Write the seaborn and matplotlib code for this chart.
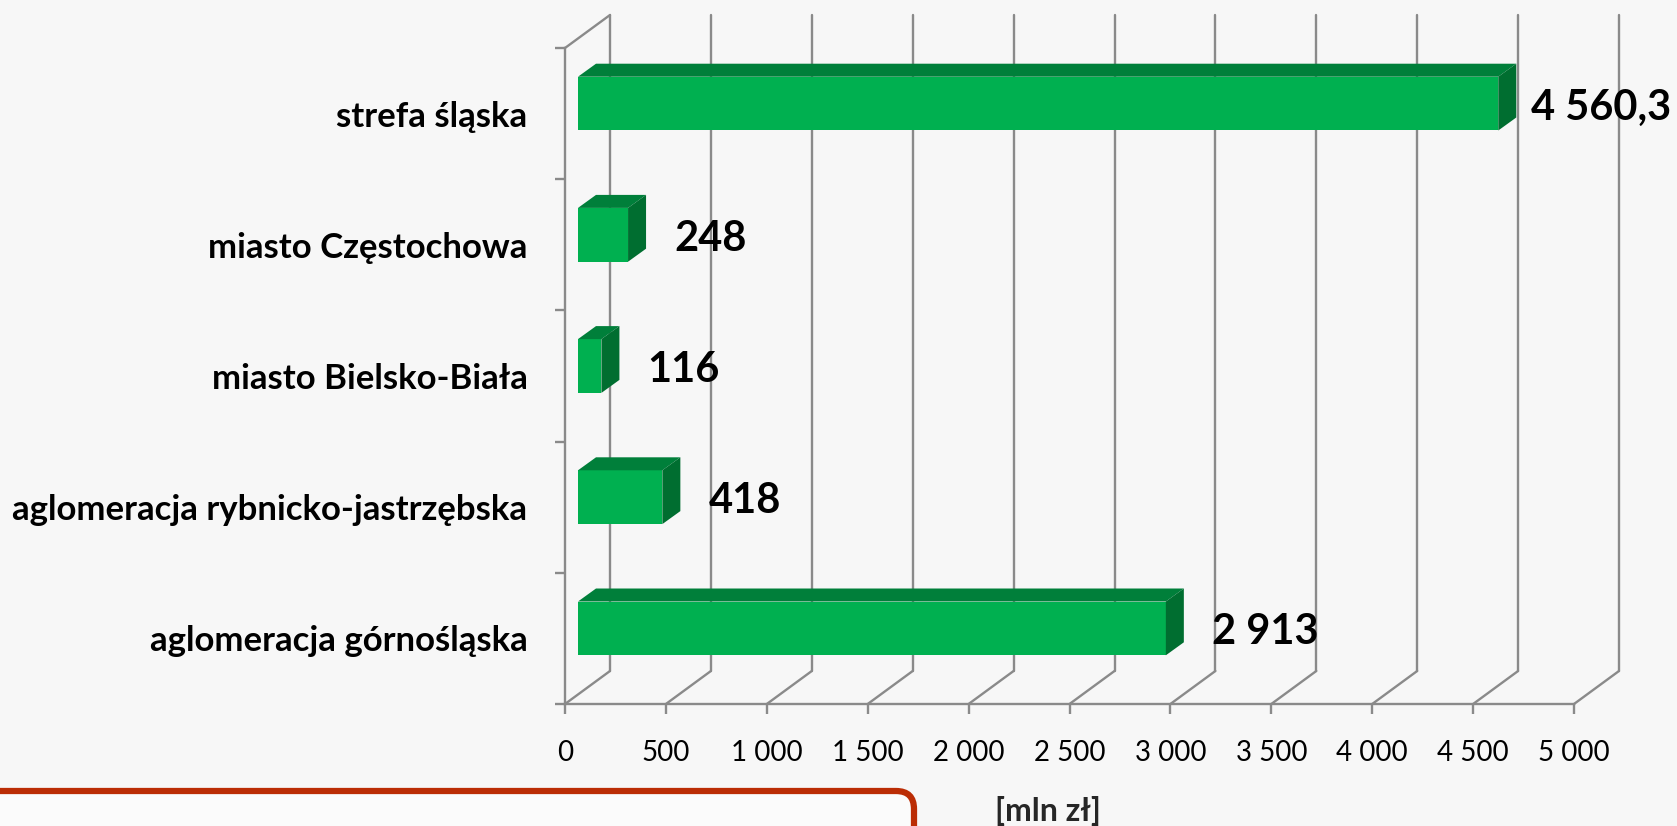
import numpy as np
import pandas as pd
import matplotlib
matplotlib.use("Agg")
import matplotlib.pyplot as plt
import seaborn as sns
from matplotlib.patches import Polygon, FancyBboxPatch
from matplotlib.transforms import IdentityTransform

# data
categories = ["strefa śląska", "miasto Częstochowa", "miasto Bielsko-Biała",
              "aglomeracja rybnicko-jastrzębska", "aglomeracja górnośląska"]
values = [4560.3, 248, 116, 418, 2913]
value_labels = ["4 560,3", "248", "116", "418", "2 913"]
ticks = [0, 500, 1000, 1500, 2000, 2500, 3000, 3500, 4000, 4500, 5000]
tick_labels = ["0", "500", "1 000", "1 500", "2 000", "2 500", "3 000",
               "3 500", "4 000", "4 500", "5 000"]
unit = "[mln zł]"

df = pd.DataFrame({"obszar": categories, "wartosc": values})

sns.set_theme(style="white")
plt.rcParams["font.family"] = ["Lato", "DejaVu Sans"]

W, H = 1677, 826
fig = plt.figure(figsize=(W / 100, H / 100), dpi=100)
fig.patch.set_facecolor("#f7f7f7")

# front plane of the fake 3d box (pixels, from top left)
x0, x1 = 565, 1574
y0, y1 = 48, 704
ax = fig.add_axes([x0 / W, 1 - y1 / H, (x1 - x0) / W, (y1 - y0) / H])
ax.set_facecolor("none")

front_col = "#00b050"
top_col = "#007f3a"
side_col = "#006e30"
grid_col = "#8a8a8a"

sns.barplot(data=df, x="wartosc", y="obszar", orient="h", color=front_col,
            saturation=1, width=0.41, linewidth=0, edgecolor="none",
            ax=ax, zorder=3)
ax.set_xlim(0, 5000)
ax.set_ylim(4.5, -0.5)

# pixel offsets -> data units
ppx = (x1 - x0) / 5000
ppy = (y1 - y0) / 5
wall_x, wall_y = 45 / ppx, 33 / ppy   # back wall depth
bar_x, bar_y = 13 / ppx, 10 / ppy     # bars sit a bit behind the front
deep_x, deep_y = 18 / ppx, 13 / ppy   # bar thickness

# back wall / floor grid
for t in ticks:
    ax.plot([t, t + wall_x], [4.5, 4.5 - wall_y], color=grid_col, lw=1.7,
            clip_on=False, zorder=1)
    ax.plot([t + wall_x, t + wall_x], [4.5 - wall_y, -0.5 - wall_y],
            color=grid_col, lw=1.7, clip_on=False, zorder=1)
ax.plot([0, wall_x], [-0.5, -0.5 - wall_y], color=grid_col, lw=1.7,
        clip_on=False, zorder=1)

# 3d faces of the bars
for p, lab in zip(ax.patches, value_labels):
    p.set_x(p.get_x() + bar_x)
    p.set_y(p.get_y() - bar_y)
    x, y, w, h = p.get_x(), p.get_y(), p.get_width(), p.get_height()
    ax.add_patch(Polygon([(x, y), (x + w, y), (x + w + deep_x, y - deep_y),
                          (x + deep_x, y - deep_y)], closed=True,
                         fc=top_col, ec="none", zorder=3, clip_on=False))
    ax.add_patch(Polygon([(x + w, y), (x + w + deep_x, y - deep_y),
                          (x + w + deep_x, y + h - deep_y), (x + w, y + h)],
                         closed=True, fc=side_col, ec="none", zorder=3,
                         clip_on=False))
    ax.text(x + w + 46 / ppx, y + h / 2 + 4 / ppy, lab, ha="left",
            va="center", fontsize=30, fontweight="bold", color="black",
            clip_on=False)

for s in ["top", "right"]:
    ax.spines[s].set_visible(False)
for s in ["left", "bottom"]:
    ax.spines[s].set_color(grid_col)
    ax.spines[s].set_linewidth(1.7)

ax.set_xticks(ticks, tick_labels)
ax.set_yticks(range(len(categories)), categories)
ax.set_yticks(np.arange(-0.5, 5, 1), minor=True)
ax.tick_params(axis="x", bottom=True, length=7, width=1.7, color=grid_col,
               pad=19, labelsize=20, labelcolor="black")
ax.tick_params(axis="y", which="major", left=True, length=0, pad=27,
               labelsize=25, labelcolor="black")
ax.tick_params(axis="y", which="minor", left=True, length=7, width=1.7,
               color=grid_col)
for t in ax.get_yticklabels():
    t.set_fontweight("bold")
ax.set_xlabel("")
ax.set_ylabel("")

# keep value labels inside the picture
fig.canvas.draw()
r = fig.canvas.get_renderer()
for t in ax.texts:
    bb = t.get_window_extent(r)
    if bb.x1 > W - 6:
        t.set_x(t.get_position()[0] - (bb.x1 - (W - 6)) / ppx)

fig.text(1048 / W, 1 - 811 / H, unit, ha="center", va="center",
         fontsize=23, fontweight="bold")

# red frame at the bottom left
box = FancyBboxPatch((-30, -60), 944, 95,
                     boxstyle="round,pad=0,rounding_size=18",
                     transform=IdentityTransform(), fc="#fbfbfb",
                     ec="#bb2d05", lw=4.5)
fig.add_artist(box)

fig.savefig("out.png", dpi=100)
